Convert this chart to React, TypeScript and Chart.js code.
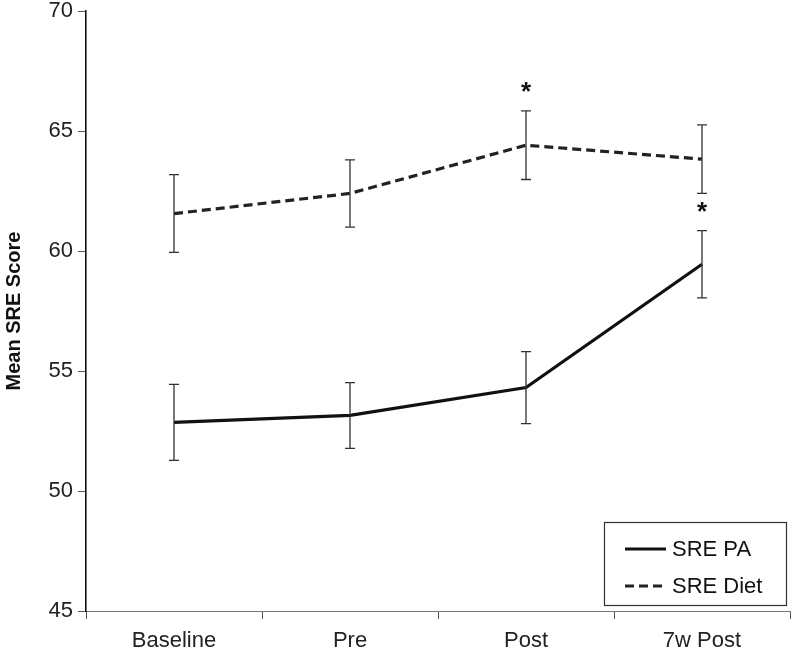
import React, { useEffect, useRef } from "react";
import { Chart, registerables } from "chart.js";

Chart.register(...registerables);

const categories = ["Baseline", "Pre", "Post", "7w Post"];
const srePA = [52.86, 53.15, 54.31, 59.45];
const srePAErr = [1.58, 1.37, 1.5, 1.4];
const sreDiet = [61.56, 62.4, 64.41, 63.83];
const sreDietErr = [1.62, 1.4, 1.43, 1.43];
const paSignificant = [false, false, false, true];
const dietSignificant = [false, false, true, false];
const seriesNames = ["SRE PA", "SRE Diet"];
const yMin = 45;
const yMax = 70;
const yStep = 5;

const errors = [srePAErr, sreDietErr];
const stars = [paSignificant, dietSignificant];

const FONT = "'Liberation Sans', Arial, Helvetica, sans-serif";

const errorBarPlugin = {
  id: "errorBars",
  afterDatasetsDraw(chart: any) {
    const ctx = chart.ctx;
    const xs = chart.scales.x;
    const ys = chart.scales.y;
    ctx.save();
    chart.data.datasets.forEach((ds: any, i: number) => {
      ds.data.forEach((v: number, j: number) => {
        const e = errors[i][j];
        const x = xs.getPixelForValue(j);
        const yt = ys.getPixelForValue(v + e);
        const yb = ys.getPixelForValue(v - e);
        ctx.strokeStyle = "#333";
        ctx.lineWidth = 1.3;
        ctx.beginPath();
        ctx.moveTo(x, yt);
        ctx.lineTo(x, yb);
        ctx.moveTo(x - 5, yt);
        ctx.lineTo(x + 5, yt);
        ctx.moveTo(x - 5, yb);
        ctx.lineTo(x + 5, yb);
        ctx.stroke();
        if (stars[i][j]) {
          ctx.fillStyle = "#111";
          ctx.font = `bold 26px ${FONT}`;
          ctx.textAlign = "center";
          ctx.textBaseline = "middle";
          ctx.fillText("*", x, yt - 18);
        }
      });
    });
    ctx.restore();
  },
};

const legendBoxPlugin = {
  id: "legendBox",
  afterDraw(chart: any) {
    const ctx = chart.ctx;
    const a = chart.chartArea;
    const w = 182;
    const h = 83;
    const left = a.right - w - 4;
    const top = a.bottom - h - 6;
    ctx.save();
    ctx.fillStyle = "#fff";
    ctx.fillRect(left, top, w, h);
    ctx.strokeStyle = "#333";
    ctx.lineWidth = 1.2;
    ctx.strokeRect(left + 0.5, top + 0.5, w, h);
    const rows = [top + 27, top + 64];
    seriesNames.forEach((name, i) => {
      const ds = chart.data.datasets[i];
      ctx.strokeStyle = ds.borderColor;
      ctx.lineWidth = ds.borderWidth;
      ctx.setLineDash(ds.borderDash || []);
      ctx.beginPath();
      ctx.moveTo(left + 21, rows[i]);
      ctx.lineTo(left + 62, rows[i]);
      ctx.stroke();
      ctx.setLineDash([]);
      ctx.fillStyle = "#111";
      ctx.font = `22px ${FONT}`;
      ctx.textAlign = "left";
      ctx.textBaseline = "middle";
      ctx.fillText(name, left + 68, rows[i] + 1);
    });
    ctx.restore();
  },
};

export default function App() {
  const ref = useRef<HTMLCanvasElement>(null);
  useEffect(() => {
    if (!ref.current) return;
    const chart = new Chart(ref.current, {
      type: "line",
      data: {
        labels: categories,
        datasets: [
          {
            label: seriesNames[0],
            data: srePA,
            borderColor: "#111",
            borderWidth: 3.2,
            pointRadius: 0,
            tension: 0,
            fill: false,
          },
          {
            label: seriesNames[1],
            data: sreDiet,
            borderColor: "#222",
            borderWidth: 3.2,
            borderDash: [9, 5],
            pointRadius: 0,
            tension: 0,
            fill: false,
          },
        ],
      },
      options: {
        responsive: false,
        animation: false,
        devicePixelRatio: 1,
        layout: { padding: { top: 6, right: 2, left: 0, bottom: 0 } },
        plugins: {
          legend: { display: false },
          tooltip: { enabled: false },
        },
        scales: {
          x: {
            type: "category",
            offset: true,
            grid: {
              offset: true,
              drawOnChartArea: false,
              tickLength: 8,
              color: "#555",
            },
            border: { color: "#777", width: 1 },
            ticks: {
              color: "#222",
              font: { family: FONT, size: 22, lineHeight: 1 },
              padding: 11,
              maxRotation: 0,
            },
            afterFit: (s: any) => {
              s.height = 42;
            },
          },
          y: {
            min: yMin,
            max: yMax,
            grid: {
              drawOnChartArea: false,
              tickLength: 8,
              color: "#555",
            },
            border: { color: "#111", width: 1.6 },
            ticks: {
              stepSize: yStep,
              color: "#222",
              font: { family: FONT, size: 22, lineHeight: 0.55 },
              padding: 5,
            },
            title: {
              display: true,
              text: "Mean SRE Score",
              color: "#111",
              font: { family: FONT, size: 20, weight: "bold" },
              padding: { top: 2, bottom: 0 },
            },
            afterFit: (s: any) => {
              s.width = 86;
            },
          },
        },
      },
      plugins: [errorBarPlugin, legendBoxPlugin],
    });
    return () => chart.destroy();
  }, []);
  return (
    <div style={{ position: "fixed", left: 0, top: 0, width: 792, height: 653, background: "#fff" }}>
      <canvas ref={ref} width={792} height={653} />
    </div>
  );
}
